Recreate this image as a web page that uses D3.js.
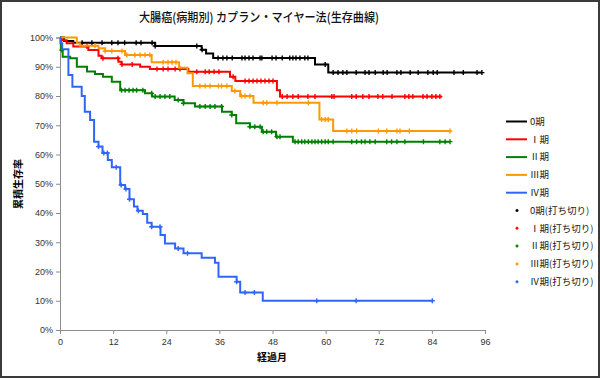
<!DOCTYPE html>
<html>
<head>
<meta charset="utf-8">
<script src="https://cdn.jsdelivr.net/npm/d3@7"></script>
<style>
  body { margin: 0; background: #fff; }
  text { font-family: "Noto Sans CJK JP", "Liberation Sans", sans-serif; }
</style>
</head>
<body>
<script>
// months ticks / percent ticks
const xTicks = [0, 12, 24, 36, 48, 60, 72, 84, 96];
const yTicks = [0, 0.1, 0.2, 0.3, 0.4, 0.5, 0.6, 0.7, 0.8, 0.9, 1.0];

const stageNames = ["0期", "Ⅰ期", "Ⅱ期", "Ⅲ期", "Ⅳ期"];
const censorNames = ["0期(打ち切り)", "Ⅰ期(打ち切り)", "Ⅱ期(打ち切り)", "Ⅲ期(打ち切り)", "Ⅳ期(打ち切り)"];
const stageColors = ["#000000", "#ff0000", "#008000", "#ff9900", "#2e67f8"];

// step times (months) and survival after each step
const stage0Times = [0.9, 3.0, 21.5, 32.0, 33.0, 34.6, 57.6, 60.6];
const stage0Surv  = [0.988, 0.982, 0.971, 0.958, 0.945, 0.930, 0.908, 0.880];
const stage0End = 95.3;
const stage0Censor = [5.0, 7.2, 9.5, 11.7, 13.1, 14.6, 17.2, 18.3, 20.8, 21.5, 30.9, 32.1, 35.7, 36.8, 37.7, 38.9,
  41.1, 41.8, 42.7, 43.6, 45.2, 45.6, 47.9, 48.8, 50.2, 51.9, 52.6, 53.3, 54.2, 55.3, 56.0, 59.9, 61.7, 62.8,
  63.9, 64.8, 66.9, 68.9, 69.8, 71.2, 73.0, 73.9, 76.1, 77.0, 79.1, 80.9, 83.1, 84.3, 85.2, 89.0, 91.1, 94.2, 95.3];

const stage1Times = [0.4, 1.5, 3.0, 6.4, 8.7, 9.4, 13.2, 13.9, 18.1, 20.3, 29.0, 38.4, 39.6, 49.0, 49.7];
const stage1Surv  = [0.991, 0.980, 0.969, 0.957, 0.938, 0.929, 0.917, 0.908, 0.900, 0.892, 0.883, 0.866, 0.851, 0.820, 0.798];
const stage1End = 86.3;
const stage1Censor = [6.1, 9.7, 13.1, 14.0, 16.3, 21.9, 23.3, 24.4, 26.0, 27.1, 30.9, 32.8, 33.7, 34.8, 35.9, 39.1,
  41.8, 42.7, 43.6, 44.5, 45.4, 46.3, 47.2, 48.1, 50.2, 51.3, 52.6, 53.8, 56.0, 57.6, 61.4, 61.9, 65.9, 66.9,
  68.4, 69.8, 71.8, 72.9, 75.0, 77.9, 78.8, 79.7, 82.0, 82.9, 84.0, 84.9, 85.8];

const stage2Times = [0.2, 0.6, 2.3, 3.8, 6.1, 7.9, 9.7, 11.7, 13.6, 19.2, 20.8, 25.9, 27.9, 30.5, 36.6, 38.8, 39.8, 42.9, 45.6, 48.8, 52.6];
const stage2Surv  = [0.957, 0.934, 0.929, 0.900, 0.884, 0.875, 0.866, 0.849, 0.820, 0.809, 0.798, 0.786, 0.775, 0.764, 0.746, 0.735, 0.707, 0.695, 0.678, 0.661, 0.644];
const stage2End = 88.1;
const stage2Censor = [0.4, 13.9, 14.7, 15.6, 16.5, 17.3, 18.7, 20.7, 21.5, 22.6, 23.7, 24.8, 26.7, 27.9, 31.6, 32.8,
  33.9, 35.0, 36.5, 38.8, 42.9, 44.0, 45.2, 45.9, 46.7, 47.8, 49.0, 49.7, 53.1, 53.8, 54.6, 55.3, 56.1, 56.9,
  57.6, 58.3, 59.1, 59.9, 60.6, 61.7, 65.9, 67.0, 68.1, 68.9, 70.0, 71.2, 73.8, 74.9, 76.1, 77.9, 82.1, 85.8, 87.0, 88.1];

const stage3Times = [3.8, 4.5, 8.7, 10.2, 14.7, 20.7, 26.9, 28.8, 30.0, 38.8, 40.7, 43.7, 58.6, 61.7];
const stage3Surv  = [0.980, 0.972, 0.963, 0.954, 0.940, 0.915, 0.897, 0.878, 0.834, 0.817, 0.800, 0.777, 0.720, 0.680];
const stage3End = 88.1;
const stage3Censor = [7.9, 10.2, 11.7, 14.0, 15.1, 16.9, 18.1, 19.2, 20.3, 23.3, 24.4, 25.3, 26.2, 31.6, 32.8, 33.9,
  35.8, 36.5, 37.7, 39.5, 41.0, 41.8, 42.9, 45.9, 46.7, 49.0, 56.1, 59.1, 59.9, 60.6, 64.8, 65.9, 67.0, 71.9,
  73.8, 76.1, 76.8, 78.9, 88.1];

const stage4Times = [0.1, 0.5, 1.9, 2.8, 4.9, 5.6, 6.8, 7.7, 8.7, 9.6, 10.8, 11.7, 13.6, 14.7, 15.7, 16.7, 17.5, 18.7,
  19.7, 20.7, 22.7, 23.7, 26.0, 27.9, 32.0, 35.0, 35.8, 39.9, 40.7, 45.8];
const stage4Surv  = [0.980, 0.960, 0.872, 0.832, 0.800, 0.746, 0.718, 0.644, 0.627, 0.605, 0.581, 0.556, 0.496, 0.482,
  0.447, 0.422, 0.408, 0.397, 0.367, 0.353, 0.325, 0.296, 0.279, 0.262, 0.247, 0.230, 0.182, 0.165, 0.128, 0.100];
const stage4End = 84.1;
const stage4Censor = [8.7, 9.9, 10.7, 12.7, 13.8, 14.9, 15.7, 17.7, 20.7, 22.6, 26.7, 28.8, 39.9, 41.8, 43.9, 58.0, 66.9, 84.1];

const series = [
  { times: stage0Times, surv: stage0Surv, end: stage0End, censor: stage0Censor },
  { times: stage1Times, surv: stage1Surv, end: stage1End, censor: stage1Censor },
  { times: stage2Times, surv: stage2Surv, end: stage2End, censor: stage2Censor },
  { times: stage3Times, surv: stage3Surv, end: stage3End, censor: stage3Censor },
  { times: stage4Times, surv: stage4Surv, end: stage4End, censor: stage4Censor }
];

const W = 600, H = 378;
const margin = { top: 37.5, left: 60, right: 115, bottom: 48 };
const width = 485 - margin.left;
const height = 330 - margin.top;

const root = d3.select("body").append("svg")
    .attr("width", W)
    .attr("height", H);

root.append("rect")
    .attr("x", 1).attr("y", 1)
    .attr("width", W - 2).attr("height", H - 2)
    .attr("fill", "#fff")
    .attr("stroke", "#3a3a3a")
    .attr("stroke-width", 2);

const svg = root.append("g")
    .attr("transform", "translate(" + margin.left + "," + margin.top + ")");

const x = d3.scaleLinear().domain([0, 96]).range([0, width]);
const y = d3.scaleLinear().domain([0, 1]).range([height, 0]);

// axes
const xAxis = svg.append("g")
    .attr("transform", "translate(0," + height + ")")
    .call(d3.axisBottom(x).tickValues(xTicks).tickSize(4).tickPadding(5));
const yAxis = svg.append("g")
    .call(d3.axisLeft(y).tickValues(yTicks).tickSize(4).tickPadding(3).tickFormat(d3.format(".0%")));

[xAxis, yAxis].forEach(function(a) {
    a.select(".domain").attr("stroke", "#8c8c8c");
    a.selectAll(".tick line").attr("stroke", "#8c8c8c");
    a.selectAll(".tick text")
        .attr("fill", "#333")
        .style("font-family", "'Liberation Sans', Arial, sans-serif")
        .style("font-size", "9px");
});

// survival curves
const line = d3.line()
    .x(function(d) { return x(d[0]); })
    .y(function(d) { return y(d[1]); })
    .curve(d3.curveStepAfter);

function survAt(s, t) {
    let v = 1;
    s.times.forEach(function(tt, i) { if (tt <= t) v = s.surv[i]; });
    return v;
}

const cross = "M-2.5,0H2.5M0,-2.5V2.5";

series.forEach(function(s, i) {
    const pts = [[0, 1]];
    s.times.forEach(function(t, j) { pts.push([t, s.surv[j]]); });
    pts.push([s.end, s.surv[s.surv.length - 1]]);

    svg.append("path")
        .datum(pts)
        .attr("fill", "none")
        .attr("stroke", stageColors[i])
        .attr("stroke-width", 2)
        .attr("d", line);

    svg.selectAll(".censor-" + i)
        .data(s.censor)
        .enter().append("path")
        .attr("class", "censor-" + i)
        .attr("transform", function(d) { return "translate(" + x(d) + "," + y(survAt(s, d)) + ")"; })
        .attr("d", cross)
        .attr("stroke", stageColors[i])
        .attr("stroke-width", 1.4);
});

// title
root.append("text")
    .attr("x", 259)
    .attr("y", 22)
    .attr("text-anchor", "middle")
    .attr("font-size", "12.5px")
    .attr("font-weight", "500")
    .attr("fill", "#111")
    .attr("textLength", 240)
    .attr("lengthAdjust", "spacingAndGlyphs")
    .text("大腸癌(病期別) カプラン・マイヤー法(生存曲線)");

// axis labels
root.append("text")
    .attr("x", 272)
    .attr("y", 361)
    .attr("text-anchor", "middle")
    .attr("font-size", "10px")
    .attr("font-weight", "bold")
    .text("経過月");

root.append("text")
    .attr("transform", "translate(22,184) rotate(-90)")
    .attr("text-anchor", "middle")
    .attr("font-size", "10px")
    .attr("font-weight", "bold")
    .text("累積生存率");

// legend
const legend = root.append("g").attr("class", "legend");
const legendTop = 121.5, legendSpacing = 17.8;

stageNames.forEach(function(name, i) {
    const ly = legendTop + i * legendSpacing;
    legend.append("line")
        .attr("x1", 506).attr("x2", 527)
        .attr("y1", ly).attr("y2", ly)
        .attr("stroke", stageColors[i])
        .attr("stroke-width", 2);
    legend.append("text")
        .attr("x", 530).attr("y", ly)
        .attr("dy", "0.35em")
        .attr("font-size", "9.5px")
        .attr("fill", "#222")
        .text(name);
});

censorNames.forEach(function(name, i) {
    const ly = legendTop + (i + 5) * legendSpacing;
    legend.append("path")
        .attr("transform", "translate(517," + ly + ")")
        .attr("d", "M-1.5,0H1.5M0,-1.5V1.5")
        .attr("stroke", stageColors[i])
        .attr("stroke-width", 1.5);
    legend.append("text")
        .attr("x", 530).attr("y", ly)
        .attr("dy", "0.35em")
        .attr("font-size", "9.5px")
        .attr("fill", "#222")
        .text(name);
});
</script>
</body>
</html>
